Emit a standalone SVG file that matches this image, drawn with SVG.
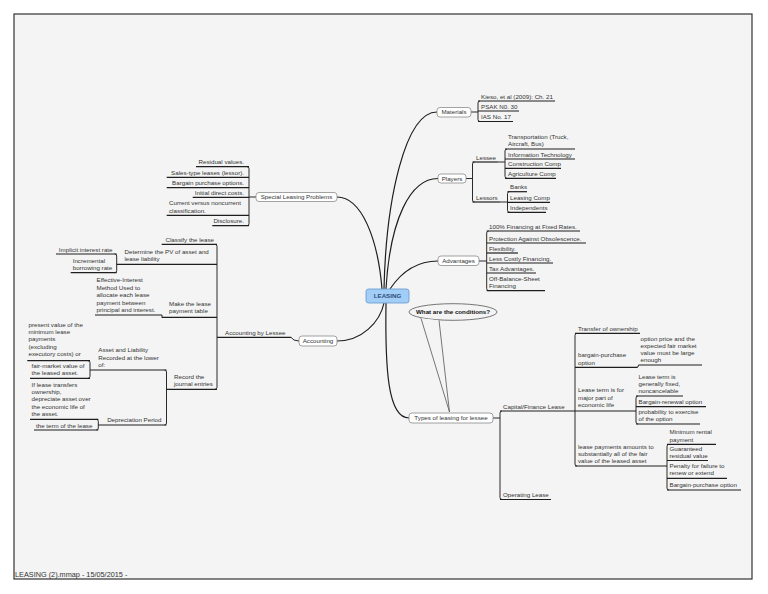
<svg xmlns="http://www.w3.org/2000/svg" width="768" height="594" viewBox="0 0 768 594">
<defs><style>
.t{font-family:"Liberation Sans",Arial,Helvetica,sans-serif;font-size:6.2px;fill:#333}
.e{text-anchor:end}
.m{text-anchor:middle}
.b{font-weight:bold}
.u{stroke:#1e1e1e;stroke-width:1.2;fill:none}
.k{stroke:#2a2a2a;stroke-width:1;fill:none}
.c{stroke:#1e1e1e;stroke-width:1.2;fill:none}
.n{fill:#fff;stroke:#8c8c8c;stroke-width:0.8}
</style></defs>
<rect width="768" height="594" fill="#fff"/>
<rect x="14" y="14" width="738" height="565" fill="#f4f4f4" stroke="#333" stroke-width="1.2"/>

<g id="connectors">
<path class="c" d="M384,289 C386,200 405,112 437,112"/>
<path class="c" d="M386,289 C390,220 410,178.5 438,178.5"/>
<path class="c" d="M390,289 C400,274 415,261 438,261"/>
<path class="c" d="M382,289 C378,240 362,197 337,197"/>
<path class="c" d="M384,303 C380,322 362,341 337,341"/>
<path class="c" d="M386,303 C385,370 388,418 409,418"/>
<!-- right brackets -->
<path class="k" d="M471,112 H478 M480,101 Q478,101 478,103 V119.5 Q478,121.5 480,121.5"/>
<path class="k" d="M466,178.5 H472.5 M474.5,162 Q472.5,162 472.5,164 V200 Q472.5,202 474.5,202"/>
<path class="k" d="M498,162 H505 M507,149 Q505,149 505,151 V176.3 Q505,178.3 507,178.3"/>
<path class="k" d="M500,202 H507.5 M509.5,191.7 Q507.5,191.7 507.5,193.7 V210.3 Q507.5,212.3 509.5,212.3"/>
<path class="k" d="M479,261 H486.7 M488.7,231 Q486.7,231 486.7,233 V288.7 Q486.7,290.7 488.7,290.7"/>
<path class="k" d="M493,418 H500 M502,411 Q500,411 500,413 V497.5 Q500,499.5 502,499.5"/>
<path class="k" d="M577,333.3 Q575,333.3 575,335.3 V464 Q575,466 577,466"/>
<path class="k" d="M637,367.3 Q638.5,367.3 638.5,365"/>
<path class="k" d="M638,396 Q636,396 636,398 V422 Q636,424 638,424"/>
<path class="k" d="M669,444.3 Q667,444.3 667,446.3 V488 Q667,490 669,490"/>
<!-- left brackets -->
<path class="k" d="M256,197 H249 M247,166.7 Q249,166.7 249,168.7 V223.7 Q249,225.7 247,225.7"/>
<path class="k" d="M299,341 Q293,341 291,337.3"/>
<path class="k" d="M215,244.3 Q217,244.3 217,246.3 V387.3 Q217,389.3 215,389.3"/>
<path class="k" d="M114.7,254 Q116.7,254 116.7,256 V270.7 Q116.7,272.7 114.7,272.7"/>
<path class="k" d="M162,317.3 V315"/>
<path class="k" d="M164.5,370 Q166.5,370 166.5,372 V423 Q166.5,425 164.5,425"/>
<path class="k" d="M88,360.7 Q90,360.7 90,362.7 V376.3 Q90,378.3 88,378.3"/>
<path class="k" d="M96.3,419.3 Q98.3,419.3 98.3,421.3 V428 Q98.3,430 96.3,430"/>
</g>

<g id="leasing">
<rect x="366" y="289" width="43" height="14" rx="2.5" fill="#a2cdf6" stroke="#6d9fd2" stroke-width="0.9"/>
<text class="t b m" x="387.5" y="298.3" fill="#2d4f78" style="fill:#2d4f78">LEASING</text>
</g>

<g id="materials">
<rect class="n" x="437" y="107.5" width="34" height="9.5" rx="3"/>
<text class="t m" x="454" y="114.3">Materials</text>
</g>
<g id="kieso"><path class="u" d="M478,101 H555"/><text class="t" x="481" y="98.5">Kieso, et al (2009): Ch. 21</text></g>
<g id="psak"><path class="u" d="M478,111 H519"/><text class="t" x="481" y="108.5">PSAK N0. 30</text></g>
<g id="ias"><path class="u" d="M478,121.5 H513"/><text class="t" x="481" y="119">IAS No. 17</text></g>

<g id="players">
<rect class="n" x="438" y="174" width="28" height="9" rx="3"/>
<text class="t m" x="452" y="180.7">Players</text>
</g>
<g id="lessee"><path class="u" d="M472.5,162 H498"/><text class="t" x="476" y="159.5">Lessee</text></g>
<g id="lessors"><path class="u" d="M472.5,202 H500"/><text class="t" x="476" y="199.5">Lessors</text></g>
<g id="transportation"><path class="u" d="M505,149 H575"/><text class="t" x="508" y="139"><tspan x="508">Transportation (Truck,</tspan><tspan x="508" dy="7.3">Aircraft, Bus)</tspan></text></g>
<g id="it"><path class="u" d="M505,159 H575"/><text class="t" x="508" y="156.5">Information Technology</text></g>
<g id="construction"><path class="u" d="M505,168.3 H561"/><text class="t" x="508" y="165.8">Construction Comp</text></g>
<g id="agriculture"><path class="u" d="M505,178.3 H556"/><text class="t" x="508" y="175.8">Agriculture Comp</text></g>
<g id="banks"><path class="u" d="M507.5,191.7 H527"/><text class="t" x="510" y="189.2">Banks</text></g>
<g id="leasingcomp"><path class="u" d="M507.5,202.3 H550"/><text class="t" x="510" y="199.8">Leasing Comp</text></g>
<g id="independents"><path class="u" d="M507.5,212.3 H546"/><text class="t" x="510" y="209.8">Independents</text></g>

<g id="advantages">
<rect class="n" x="438" y="256" width="41" height="9.5" rx="3"/>
<text class="t m" x="458.5" y="263">Advantages</text>
</g>
<g id="adv1"><path class="u" d="M486.7,231 H580"/><text class="t" x="489" y="228.5">100% Financing at Fixed Rates.</text></g>
<g id="adv2"><path class="u" d="M486.7,243 H586"/><text class="t" x="489" y="240.5">Protection Against Obsolescence.</text></g>
<g id="adv3"><path class="u" d="M486.7,253 H518"/><text class="t" x="489" y="250.5">Flexibility.</text></g>
<g id="adv4"><path class="u" d="M486.7,263 H553"/><text class="t" x="489" y="260.5">Less Costly Financing.</text></g>
<g id="adv5"><path class="u" d="M486.7,273 H536"/><text class="t" x="489" y="270.5">Tax Advantages.</text></g>
<g id="adv6"><path class="u" d="M486.7,290.7 H545"/><text class="t" x="489" y="280.5"><tspan x="489">Off-Balance-Sheet</tspan><tspan x="489" dy="7.4">Financing</tspan></text></g>

<g id="callout">
<ellipse cx="453" cy="312" rx="44" ry="8.3" fill="#f4f4f4" stroke="#555" stroke-width="0.8"/>
<path d="M421,318.3 L449.5,412 L439,320.3" fill="#f4f4f4" stroke="#555" stroke-width="0.8"/>
<text class="t b m" x="453" y="314.2" style="fill:#111">What are the conditions?</text>
</g>

<g id="types">
<rect class="n" x="409" y="413" width="84" height="10" rx="3"/>
<text class="t m" x="451" y="420">Types of leasing for lessee</text>
</g>
<g id="capital"><path class="u" d="M500,411 H575"/><text class="t" x="503" y="408.5">Capital/Finance Lease</text></g>
<g id="operating"><path class="u" d="M500,499.5 H551"/><text class="t" x="503" y="497">Operating Lease</text></g>
<g id="transfer"><path class="u" d="M575,333.3 H640"/><text class="t" x="578" y="330.8">Transfer of ownership</text></g>
<g id="bargain"><path class="u" d="M575,367.3 H637.5"/><text class="t" x="578" y="357.3"><tspan x="578">bargain-purchase</tspan><tspan x="578" dy="7.2">option</tspan></text></g>
<g id="optionprice"><path class="u" d="M638.5,365 H702"/><text class="t" x="640.5" y="340.7"><tspan x="640.5">option price and the</tspan><tspan x="640.5" dy="7.2">expected fair market</tspan><tspan x="640.5" dy="7.2">value must be large</tspan><tspan x="640.5" dy="7.2">enough</tspan></text></g>
<g id="leaseterm"><path class="u" d="M575,411 H636"/><text class="t" x="578" y="392.3"><tspan x="578">Lease term is for</tspan><tspan x="578" dy="7.3">major part of</tspan><tspan x="578" dy="7.3">economic life</tspan></text></g>
<g id="fixed"><path class="u" d="M636,396 H683"/><text class="t" x="638.5" y="378.5"><tspan x="638.5">Lease term is</tspan><tspan x="638.5" dy="7.3">generally fixed,</tspan><tspan x="638.5" dy="7.3">noncancelable</tspan></text></g>
<g id="renewal"><path class="u" d="M636,406.7 H706"/><text class="t" x="638.5" y="404.2">Bargain-renewal option</text></g>
<g id="probability"><path class="u" d="M636,424 H700"/><text class="t" x="638.5" y="414"><tspan x="638.5">probability to exercise</tspan><tspan x="638.5" dy="7.2">of the option</tspan></text></g>
<g id="payments"><path class="u" d="M575,466 H667"/><text class="t" x="578" y="448.5"><tspan x="578">lease payments amounts to</tspan><tspan x="578" dy="7.3">substantially all of the fair</tspan><tspan x="578" dy="7.3">value of the leased asset</tspan></text></g>
<g id="minimum"><path class="u" d="M667,444.3 H716"/><text class="t" x="669.5" y="434.2"><tspan x="669.5">Minimum rental</tspan><tspan x="669.5" dy="7.3">payment</tspan></text></g>
<g id="guaranteed"><path class="u" d="M667,460.5 H708"/><text class="t" x="669.5" y="450.7"><tspan x="669.5">Guaranteed</tspan><tspan x="669.5" dy="7.3">residual value</tspan></text></g>
<g id="penalty"><path class="u" d="M667,478.3 H727"/><text class="t" x="669.5" y="468"><tspan x="669.5">Penalty for failure to</tspan><tspan x="669.5" dy="7.3">renew or extend</tspan></text></g>
<g id="bpo"><path class="u" d="M667,490 H741"/><text class="t" x="669.5" y="487.4">Bargain-purchase option</text></g>

<g id="special">
<rect class="n" x="256" y="192.5" width="81" height="9" rx="3"/>
<text class="t m" x="296.5" y="199.2">Special Leasing Problems</text>
</g>
<g id="residual"><path class="u" d="M196,166.7 H249"/><text class="t e" x="244" y="164.2">Residual values.</text></g>
<g id="salestype"><path class="u" d="M166.7,177.3 H249"/><text class="t e" x="244" y="174.8">Sales-type leases (lessor).</text></g>
<g id="bargainopt"><path class="u" d="M166.7,187.7 H249"/><text class="t e" x="244" y="185.2">Bargain purchase options.</text></g>
<g id="initial"><path class="u" d="M192.7,197.3 H249"/><text class="t e" x="244" y="194.8">Initial direct costs.</text></g>
<g id="current"><path class="u" d="M166.7,215.3 H249"/><text class="t" x="169" y="205"><tspan x="169">Current versus noncurrent</tspan><tspan x="169" dy="7.5">classification.</tspan></text></g>
<g id="disclosure"><path class="u" d="M212.3,225.7 H249"/><text class="t e" x="244" y="223">Disclosure.</text></g>

<g id="accounting">
<rect class="n" x="299" y="336" width="38" height="10" rx="3"/>
<text class="t m" x="318" y="343">Accounting</text>
</g>
<g id="bylessee"><path class="u" d="M217,337.3 H291"/><text class="t" x="225" y="334.8">Accounting by Lessee</text></g>
<g id="classify"><path class="u" d="M161.7,244.3 H217"/><text class="t e" x="214" y="241.8">Classify the lease</text></g>
<g id="determine"><path class="u" d="M116.7,264.3 H217"/><text class="t" x="124.5" y="253.8"><tspan x="124.5">Determine the PV of asset and</tspan><tspan x="124.5" dy="7.2">lease liability</tspan></text></g>
<g id="implicit"><path class="u" d="M56,254 H116.7"/><text class="t e" x="112.5" y="251.5">Implicit interest rate</text></g>
<g id="incremental"><path class="u" d="M70.7,272.7 H116.7"/><text class="t" x="72.7" y="262.5"><tspan x="72.7">Incremental</tspan><tspan x="72.7" dy="7.4">borrowing rate</tspan></text></g>
<g id="maketable"><path class="u" d="M161.7,317.3 H217"/><text class="t" x="169" y="306"><tspan x="169">Make the lease</tspan><tspan x="169" dy="7.3">payment table</tspan></text></g>
<g id="effective"><path class="u" d="M95,315 H162"/><text class="t" x="96.5" y="282.3"><tspan x="96.5">Effective-Interest</tspan><tspan x="96.5" dy="7.4">Method Used to</tspan><tspan x="96.5" dy="7.4">allocate each lease</tspan><tspan x="96.5" dy="7.4">payment between</tspan><tspan x="96.5" dy="7.4">principal and interest.</tspan></text></g>
<g id="record"><path class="u" d="M166.5,389.3 H217"/><text class="t" x="174" y="378.7"><tspan x="174">Record the</tspan><tspan x="174" dy="7.3">journal entries</tspan></text></g>
<g id="assetliab"><path class="u" d="M90,370 H166.5"/><text class="t" x="98.3" y="352.3"><tspan x="98.3">Asset and Liability</tspan><tspan x="98.3" dy="7.2">Recorded at the lower</tspan><tspan x="98.3" dy="7.2">of:</tspan></text></g>
<g id="pv"><path class="u" d="M27.3,360.7 H90"/><text class="t" x="28.5" y="326.7"><tspan x="28.5">present value of the</tspan><tspan x="28.5" dy="7.3">minimum lease</tspan><tspan x="28.5" dy="7.3">payments</tspan><tspan x="28.5" dy="7.3">(excluding</tspan><tspan x="28.5" dy="7.3">executory costs) or</tspan></text></g>
<g id="fmv"><path class="u" d="M30,378.3 H90"/><text class="t" x="31.5" y="368.2"><tspan x="31.5">fair-market value of</tspan><tspan x="31.5" dy="7">the leased asset.</tspan></text></g>
<g id="depreciation"><path class="u" d="M98.3,425 H166.5"/><text class="t e" x="161.5" y="422.4">Depreciation Period</text></g>
<g id="iftransfers"><path class="u" d="M30,419.3 H98.3"/><text class="t" x="31.5" y="386.7"><tspan x="31.5">If lease transfers</tspan><tspan x="31.5" dy="7.3">ownership,</tspan><tspan x="31.5" dy="7.3">depreciate asset over</tspan><tspan x="31.5" dy="7.3">the economic life of</tspan><tspan x="31.5" dy="7.3">the asset.</tspan></text></g>
<g id="term"><path class="u" d="M34,430 H98.3"/><text class="t" x="36" y="427.5">the term of the lease</text></g>

<text class="t" x="15" y="577" style="font-size:7.3px">LEASING (2).mmap - 15/05/2015 -</text>
</svg>
